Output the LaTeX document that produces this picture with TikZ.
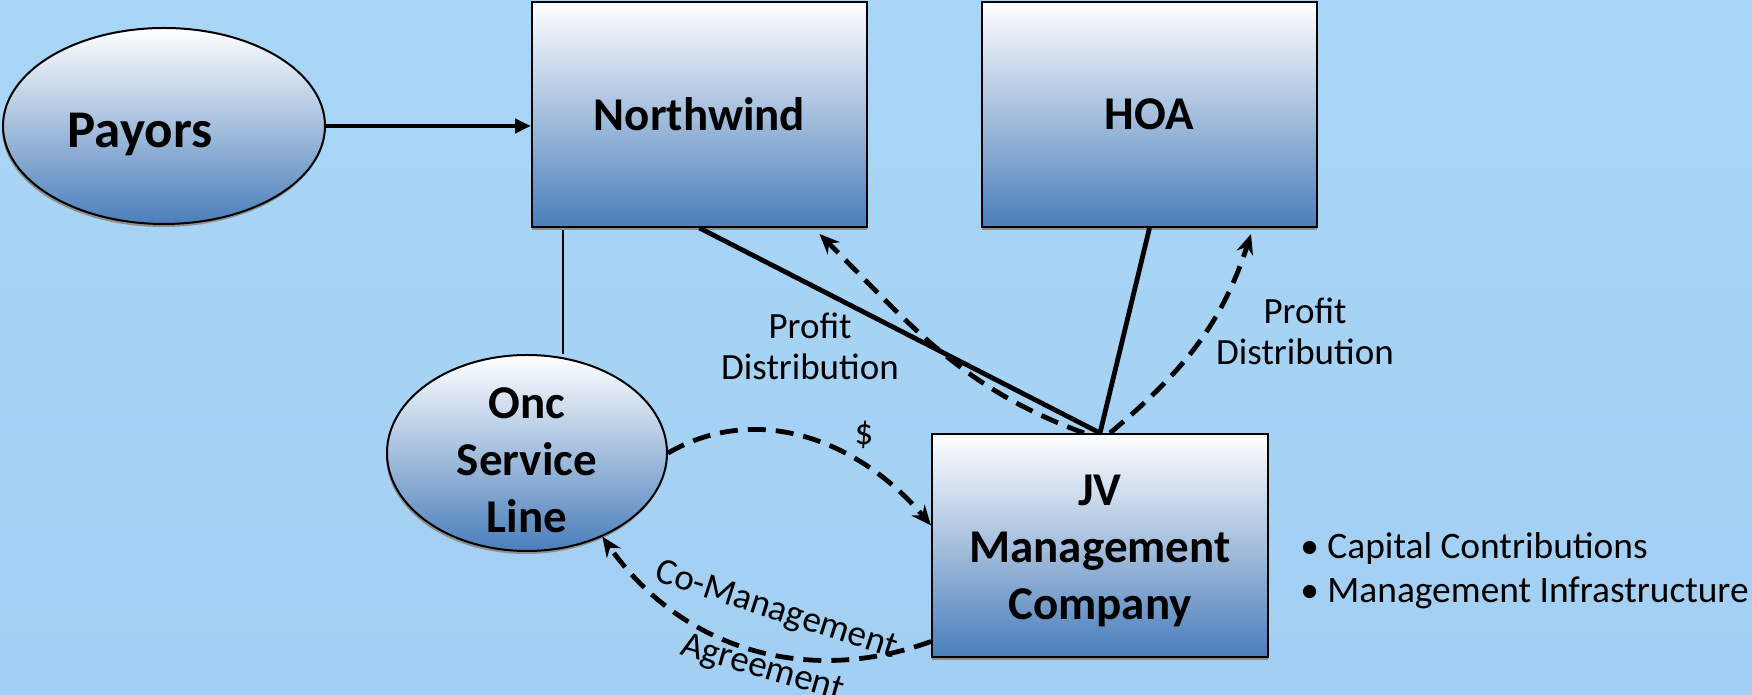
\documentclass[tikz,border=0pt]{standalone}
\usepackage{fontspec}
\setmainfont{Carlito}
\usepackage{tikz}
\usetikzlibrary{positioning,arrows.meta,shapes.geometric,shadows,backgrounds}
\definecolor{sky}{HTML}{A9D6F6}
\definecolor{skydeep}{HTML}{A3CFF2}
\definecolor{boxblue}{HTML}{4A7EBB}
\definecolor{shade}{HTML}{8E8E8E}
\tikzset{
  ent/.style={rectangle, draw=black, line width=1pt, top color=white,
              bottom color=boxblue, align=center, inner sep=4pt,
              font=\bfseries\fontsize{23.5}{28.5}\selectfont,
              drop shadow={shadow xshift=0pt, shadow yshift=-1.5pt, fill=shade, opacity=1}},
  party/.style={ellipse, draw=black, line width=1pt, top color=white,
              bottom color=boxblue, align=center, inner sep=2pt,
              font=\bfseries\fontsize{23.5}{28.5}\selectfont,
              drop shadow={shadow xshift=-0.5pt, shadow yshift=-1.5pt, fill=shade, opacity=1}},
  lnk/.style={line width=2.4pt, draw=black},
  ar/.style={-{Triangle[length=8pt,width=7pt]}, line width=2.2pt, draw=black},
  dar/.style={-{Stealth[length=10pt,width=8.5pt]}, line width=2.4pt, draw=black,
              dash pattern=on 9pt off 5pt},
  tie/.style={line width=0.7pt, draw=black},
  lbl/.style={font=\fontsize{18.5}{20.5}\selectfont, align=center, inner sep=1pt},
}

\begin{document}
\begin{tikzpicture}[x=0.5pt, y=0.5pt]
  \useasboundingbox (0,0) rectangle (1752,695);

  \node[party, minimum width=161pt, minimum height=98pt,
        font=\bfseries\fontsize{26.5}{31}\selectfont] (pay) at (164,569)
       {\rule{0pt}{25.5pt}Payors\hspace*{24pt}};
  \node[ent, minimum width=167.5pt, minimum height=112.5pt] (nw) at (699.5,580.5) {Northwind};
  \node[ent, minimum width=167.5pt, minimum height=112.5pt, right=56.5pt of nw] (hoa) {HOA};
  \node[party, minimum width=140pt, minimum height=98pt, inner ysep=-12pt] (onc) at (527,242)
       {\rule{0pt}{22.7pt}Onc\\Service\\Line};
  \node[ent, minimum width=168pt, minimum height=111.5pt] (jv) at (1100,149.5)
       {\rule{0pt}{21pt}JV\\Management\\Company};
  \node[lbl, anchor=west, align=left, font=\fontsize{18.7}{22}\selectfont] (pts) at (1298,124.5)
       {\textbullet\ Capital Contributions\\\textbullet\ Management Infrastructure};

  \draw[ar] (pay.east) -- (pay.east -| nw.west);
  \draw[lnk] (nw.south) -- (jv.north);
  \draw[lnk] (hoa.south) -- (jv.north);
  \draw[dar] ([xshift=-8pt]jv.north) to[out=160,in=-45] ([xshift=60pt,yshift=-3pt]nw.south);
  \draw[dar] ([xshift=5pt]jv.north) to[out=40,in=-108] ([xshift=50.75pt,yshift=-3pt]hoa.south);
  \draw[dar] (onc.east) to[out=30,in=130] ([yshift=10pt]jv.west);
  \draw[dar] ([yshift=-48pt]jv.west) to[out=200,in=-55] (onc.-48);

  \node[lbl] (pd1) at (810,349) {Profit\\Distribution};
  \node[lbl] (pd2) at (1305,364) {Profit\\Distribution};
  \node[lbl] (usd) at (864,260) {\$};
  \node[lbl, rotate=-18] (cm) at (776,84) {Co-Management};
  \node[lbl, rotate=-16] (ag) at (762,26) {Agreement};

  \begin{scope}[on background layer]
    \fill[top color=sky, bottom color=skydeep] (0,0) rectangle (1752,695);
    \coordinate (tap) at ([xshift=16pt]nw.south west);
    \draw[tie] (tap) -- (tap |- onc.north);
  \end{scope}
\end{tikzpicture}
\end{document}
